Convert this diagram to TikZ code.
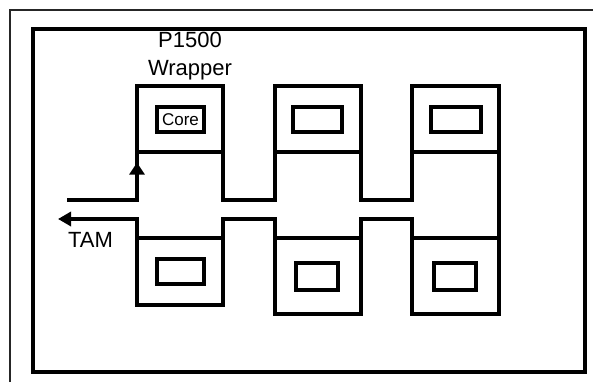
\documentclass[tikz,border=0pt]{standalone}
\usepackage{fontspec}
\setmainfont{Liberation Sans}
\usetikzlibrary{arrows.meta,decorations.markings}
\begin{document}
\begin{tikzpicture}[x=1pt,y=-1pt,
  frame/.style={line width=4.5pt},
  thin/.style={line width=1.2pt, black!85},
  wrap/.style={draw, line width=4.2pt, fill=white, inner sep=0pt, outer sep=0pt},
  core/.style={draw, line width=3.8pt, fill=white, inner sep=0pt, outer sep=0pt},
  bus/.style={line width=4.2pt},
  tip/.style={-{Triangle[width=14pt,length=13pt]}},
  lbl/.style={font=\fontsize{22}{24}\selectfont, inner sep=0pt}
]
\useasboundingbox (0,0) rectangle (593,382);
% thin outer frame (only top and left visible)
\draw[thin] (10,382) -- (10,10) -- (593,10);
% thick inner frame
\draw[frame] (33,29) rectangle (585,372);

% wrappers (upper row)
\node[wrap, minimum width=86pt, minimum height=66pt] (w1) at (180,119) {};
\node[wrap, minimum width=86pt, minimum height=66pt] (w2) at (318,119) {};
\node[wrap, minimum width=87pt, minimum height=66pt] (w3) at (455.5,119) {};
% wrappers (lower row)
\node[wrap, minimum width=86pt, minimum height=67pt] (l1) at (180,271.5) {};
\node[wrap, minimum width=86pt, minimum height=76pt] (l2) at (318,276) {};
\node[wrap, minimum width=87pt, minimum height=76pt] (l3) at (455.5,276) {};

% cores
\node[core, minimum width=47pt, minimum height=25pt, font=\fontsize{17}{18}\selectfont] (c1) at (180.5,119.5) {Core};
\node[core, minimum width=49pt, minimum height=25pt] (c2) at (317.5,119.5) {};
\node[core, minimum width=50pt, minimum height=25pt] (c3) at (456,119.5) {};
\node[core, minimum width=47pt, minimum height=25pt] (c4) at (180.5,271.5) {};
\node[core, minimum width=42pt, minimum height=27pt] (c5) at (317,276.5) {};
\node[core, minimum width=42pt, minimum height=27pt] (c6) at (455,276.5) {};

% TAM bus
\coordinate (in) at (67,200);
\coordinate (out) at (58,219);
\draw[bus, postaction={decorate}, decoration={markings,
   mark=at position 0.91 with {\arrow{Triangle[width=15pt,length=12pt]}}}]
   (in) -| (w1.south west);
\draw[bus] (w1.south east) -- (w1.south east |- in) -- (w2.south west |- in) -- (w2.south west);
\draw[bus] (w2.south east) -- (w2.south east |- in) -- (w3.south west |- in) -- (w3.south west);
\draw[bus] (w3.south east) -- (l3.north east);
\draw[bus] (l3.north west) -- (l3.north west |- out) -- (l2.north east |- out) -- (l2.north east);
\draw[bus] (l2.north west) -- (l2.north west |- out) -- (l1.north east |- out) -- (l1.north east);
\draw[bus, tip] (l1.north west) -- (l1.north west |- out) -- (out);

% labels
\node[lbl, anchor=base] (p1500) at (190,48) {P1500};
\node[lbl, anchor=base] (wrapper) at (190,76) {Wrapper};
\node[lbl, anchor=base] (tam) at (90.5,247) {TAM};
\end{tikzpicture}
\end{document}
